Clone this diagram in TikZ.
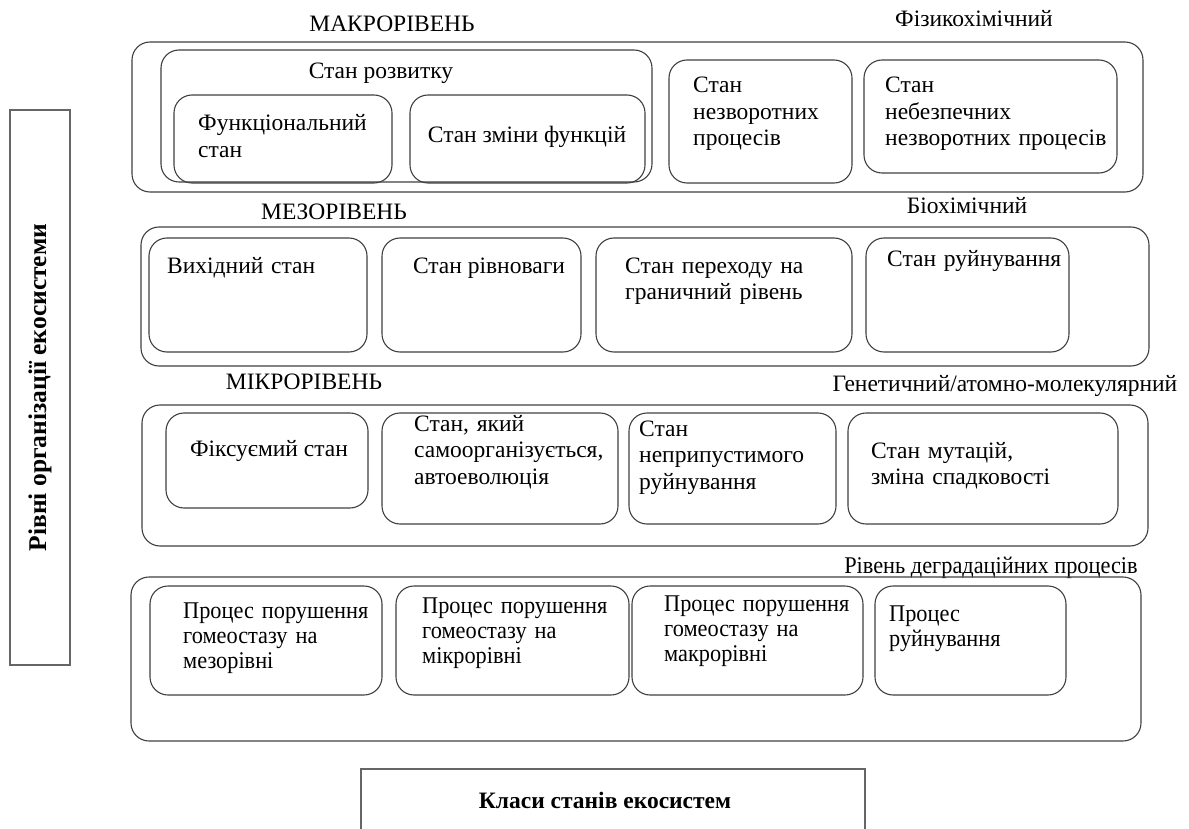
\documentclass[tikz,border=0pt]{standalone}
\usepackage{fontspec}
\setmainfont{Liberation Serif}
\newfontfamily\narrowserif{Liberation Serif}[FakeStretch=0.93]
\usetikzlibrary{fit}
\begin{document}
\begin{tikzpicture}[x=1pt,y=-1pt,
  every node/.style={font=\fontsize{23.5}{26.5}\selectfont},
  rbox/.style={draw=black!75, line width=1.1pt, rounded corners=18pt, inner sep=0pt},
  frame/.style={draw=black!60, line width=1.4pt, inner sep=0pt},
  txt/.style={anchor=base west, inner sep=0pt, text width=340pt, align=left},
  ntxt/.style={txt, font=\narrowserif\fontsize{24}{25}\selectfont},
  ctxt/.style={anchor=base, inner sep=0pt},
  bold/.style={font=\fontsize{25.5}{28}\selectfont\bfseries}]
\useasboundingbox (0,0) rectangle (1189,829);
\fill[white] (0,0) rectangle (1189,829);

% row titles
\node[ctxt] (tmacro) at (392,32) {МАКРОРІВЕНЬ};
\node[ctxt] (tphys) at (974,27) {Фізикохімічний};
\node[ctxt] (tmeso) at (334,220) {МЕЗОРІВЕНЬ};
\node[ctxt] (tbio) at (967,214) {Біохімічний};
\node[ctxt] (tmicro) at (304,389) {МІКРОРІВЕНЬ};
\node[ctxt] (tgen) at (1005,391) {Генетичний/атомно-молекулярний};
\node[ctxt, font=\narrowserif\fontsize{24}{25}\selectfont] (tdeg) at (991,573) {Рівень деградаційних процесів};

% macro level
\node[rbox, fit={(132,42) (1143,192)}] (macro) {};
\node[rbox, fit={(161,50) (652,182)}] (dev) {};
\node[ctxt] (tdev) at (381,79) {Стан розвитку};
\node[rbox, fit={(174,95) (392,183)}] (func) {};
\node[txt] at (198,131) {Функціональний\\стан};
\node[rbox, fit={(410,95) (645,183)}] (fchg) {};
\node[ctxt] at (527,143) {Стан зміни функцій};
\node[rbox, fit={(669,60) (852,183)}] (irr) {};
\node[txt] at (693,93) {Стан\\незворотних\\процесів};
\node[rbox, fit={(864,60) (1117,173)}] (dang) {};
\node[txt] at (885,93) {Стан\\небезпечних\\незворотних процесів};

% meso level
\node[rbox, fit={(141,227) (1149,366)}] (meso) {};
\node[rbox, fit={(149,238) (367,352)}] (init) {};
\node[txt] at (167,273) {Вихідний стан};
\node[rbox, fit={(382,238) (581,352)}] (equi) {};
\node[ctxt] at (489,273) {Стан рівноваги};
\node[rbox, fit={(596,238) (852,352)}] (trans) {};
\node[txt] at (625,273) {Стан переходу на\\граничний рівень};
\node[rbox, fit={(866,238) (1069,352)}] (destr) {};
\node[txt] at (887,266) {Стан руйнування};

% micro level
\node[rbox, fit={(142,405) (1148,546)}] (micro) {};
\node[rbox, fit={(166,413) (368,508)}] (fix) {};
\node[ctxt] at (269,456) {Фіксуємий стан};
\node[rbox, fit={(382,413) (618,524)}] (self) {};
\node[txt] at (414,431) {Стан, який\\самоорганізується,\\автоеволюція};
\node[rbox, fit={(629,413) (836,524)}] (inadm) {};
\node[txt] at (639,436) {Стан\\неприпустимого\\руйнування};
\node[rbox, fit={(848,413) (1118,524)}] (mut) {};
\node[txt] at (871,458) {Стан мутацій,\\зміна спадковості};

% degradation level
\node[rbox, fit={(131,577) (1141,741)}] (deg) {};
\node[rbox, fit={(150,586) (382,695)}] (pmeso) {};
\node[ntxt] at (183,618) {Процес порушення\\гомеостазу на\\мезорівні};
\node[rbox, fit={(396,586) (629,695)}] (pmicro) {};
\node[ntxt] at (422,613) {Процес порушення\\гомеостазу на\\мікрорівні};
\node[rbox, fit={(632,586) (863,695)}] (pmacro) {};
\node[ntxt] at (664,611) {Процес порушення\\гомеостазу на\\макрорівні};
\node[rbox, fit={(875,586) (1066,695)}] (pdes) {};
\node[ntxt] at (889,621) {Процес\\руйнування};

% side and bottom captions
\node[frame, fit={(10,110) (70,665)}] (levels) {};
\node[bold, rotate=90, inner sep=0pt] (tlevels) at (levels.center) {Рівні організації екосистеми};
\draw[draw=black!60, line width=1.4pt] (361,835) -- (361,769) -- (865,769) -- (865,835);
\node[ctxt, font=\fontsize{23.5}{26}\selectfont\bfseries] (classes) at (605,808) {Класи станів екосистем};
\end{tikzpicture}
\end{document}
